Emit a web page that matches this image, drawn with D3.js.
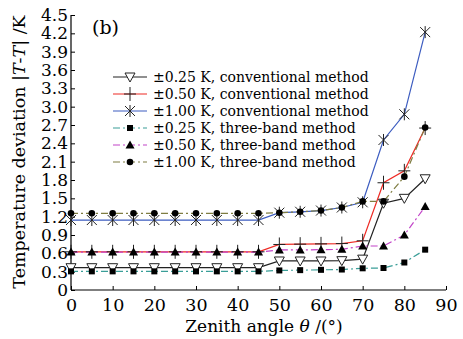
<!DOCTYPE html>
<html>
<head>
<meta charset="utf-8">
<script src="https://cdn.jsdelivr.net/npm/d3@7"></script>
<style>
  body { margin: 0; background: #fff; }
  svg { display: block; font-family: "DejaVu Serif", serif; }
  .tick text { font-family: "DejaVu Serif", serif; font-size: 17.5px; fill: #000; }
  .yaxis .tick text { font-size: 17px; }
</style>
</head>
<body>
<svg width="463" height="339"></svg>
<script>
// zenith angles (deg)
const angles = [0, 5, 10, 15, 20, 25, 30, 35, 40, 45, 50, 55, 60, 65, 70, 75, 80, 85];

const conv025 = [0.365, 0.365, 0.365, 0.365, 0.365, 0.365, 0.365, 0.365, 0.365, 0.365, 0.475, 0.475, 0.475, 0.48, 0.505, 1.42, 1.50, 1.82];
const conv050 = [0.625, 0.625, 0.625, 0.625, 0.625, 0.625, 0.625, 0.625, 0.625, 0.625, 0.745, 0.75, 0.755, 0.76, 0.805, 1.755, 1.95, 2.65];
const conv100 = [1.145, 1.145, 1.145, 1.145, 1.145, 1.145, 1.145, 1.145, 1.145, 1.145, 1.265, 1.28, 1.30, 1.35, 1.435, 2.455, 2.875, 4.22];
const tb025 = [0.305, 0.305, 0.305, 0.305, 0.305, 0.305, 0.305, 0.305, 0.305, 0.305, 0.32, 0.325, 0.33, 0.335, 0.355, 0.36, 0.45, 0.66];
const tb050 = [0.62, 0.62, 0.62, 0.62, 0.62, 0.62, 0.62, 0.62, 0.62, 0.62, 0.655, 0.655, 0.66, 0.665, 0.72, 0.72, 0.90, 1.365];
const tb100 = [1.255, 1.255, 1.255, 1.255, 1.255, 1.255, 1.255, 1.255, 1.255, 1.255, 1.265, 1.28, 1.30, 1.35, 1.45, 1.45, 1.855, 2.66];

const xTicks = [0, 10, 20, 30, 40, 50, 60, 70, 80, 90];
const yTicks = [0, 0.3, 0.6, 0.9, 1.2, 1.5, 1.8, 2.1, 2.4, 2.7, 3.0, 3.3, 3.6, 3.9, 4.2, 4.5];

const series = [
  { label: "\u00b10.25 K, conventional method", values: conv025, color: "#222", dash: null, marker: "tridown" },
  { label: "\u00b10.50 K, conventional method", values: conv050, color: "#ee2a24", dash: null, marker: "plus" },
  { label: "\u00b11.00 K, conventional method", values: conv100, color: "#3c5cc0", dash: null, marker: "star" },
  { label: "\u00b10.25 K, three-band method", values: tb025, color: "#3a9e98", dash: "7,3,2,3", marker: "square" },
  { label: "\u00b10.50 K, three-band method", values: tb050, color: "#c244c8", dash: "7,3,2,3", marker: "triangle" },
  { label: "\u00b11.00 K, three-band method", values: tb100, color: "#7f7d42", dash: "7,3,2,3", marker: "circle" }
];

const svg = d3.select("svg");
const x = d3.scaleLinear().domain([0, 90]).range([71, 446]);
const y = d3.scaleLinear().domain([0, 4.5]).range([290, 15]);

// axes
svg.append("g")
  .attr("transform", "translate(0,290)")
  .call(d3.axisBottom(x).tickValues(xTicks).tickSize(-4).tickPadding(7).tickFormat(d3.format("d")))
  .call(g => g.selectAll(".tick text").attr("dy", "0.78em"))
  .call(g => g.select(".domain").attr("d", "M71,0H446"));

svg.append("g")
  .attr("class", "yaxis")
  .attr("transform", "translate(71,0)")
  .call(d3.axisLeft(y).tickValues(yTicks).tickSize(-4).tickPadding(3)
    .tickFormat(d => d === 0 ? "0" : d3.format(".1f")(d)))
  .call(g => g.select(".domain").attr("d", "M0,290V15"));

svg.selectAll(".domain").attr("stroke", "#000").attr("stroke-width", 1.2);
svg.selectAll(".tick line").attr("stroke", "#000");

// titles
svg.append("text")
  .attr("x", 264).attr("y", 332)
  .attr("text-anchor", "middle")
  .attr("font-size", 17)
  .html('Zenith angle <tspan font-style="italic">\u03b8</tspan> /(\u00b0)');

svg.append("text")
  .attr("transform", "translate(25,152) rotate(-90)")
  .attr("text-anchor", "middle")
  .attr("font-size", 17.5)
  .html('Temperature deviation |<tspan font-style="italic">T</tspan>-<tspan font-style="italic">T</tspan>| /K');

svg.append("text")
  .attr("x", 92).attr("y", 34)
  .attr("font-size", 19)
  .text("(b)");

// marker drawing
function drawMarker(g, type, color) {
  if (type === "tridown") {
    g.append("path").attr("d", "M-5,-4L5,-4L0,5Z").attr("fill", "#fff").attr("stroke", "#222").attr("stroke-width", 1);
  } else if (type === "plus") {
    g.append("path").attr("d", "M-6,0H6M0,-7V7").attr("stroke", "#222").attr("stroke-width", 1);
  } else if (type === "star") {
    g.append("path").attr("d", "M-5,-5L5,5M-5,5L5,-5M0,-6V6").attr("stroke", "#222").attr("stroke-width", 1);
  } else if (type === "square") {
    g.append("rect").attr("x", -3).attr("y", -3).attr("width", 6).attr("height", 6).attr("fill", "#000");
  } else if (type === "triangle") {
    g.append("path").attr("d", "M0,-4.5L4.5,3.5L-4.5,3.5Z").attr("fill", "#000");
  } else if (type === "circle") {
    g.append("circle").attr("r", 3.3).attr("fill", "#000");
  }
}

const line = d3.line().x((d, i) => x(angles[i])).y(d => y(d));

series.forEach(s => {
  svg.append("path")
    .datum(s.values)
    .attr("fill", "none")
    .attr("stroke", s.color)
    .attr("stroke-width", 1.2)
    .attr("stroke-dasharray", s.dash)
    .attr("d", line);
});

series.forEach(s => {
  s.values.forEach((v, i) => {
    const g = svg.append("g").attr("transform", `translate(${x(angles[i])},${y(v)})`);
    drawMarker(g, s.marker, s.color);
  });
});

// legend
const legend = svg.append("g");
series.forEach((s, i) => {
  const ly = 77 + i * 17;
  legend.append("line")
    .attr("x1", 113).attr("x2", 147).attr("y1", ly).attr("y2", ly)
    .attr("stroke", s.color).attr("stroke-width", 1.2)
    .attr("stroke-dasharray", s.dash);
  const g = legend.append("g").attr("transform", `translate(130,${ly})`);
  drawMarker(g, s.marker, s.color);
  legend.append("text")
    .attr("x", 153).attr("y", ly + 5)
    .attr("font-size", 14)
    .text(s.label);
});
</script>
</body>
</html>
